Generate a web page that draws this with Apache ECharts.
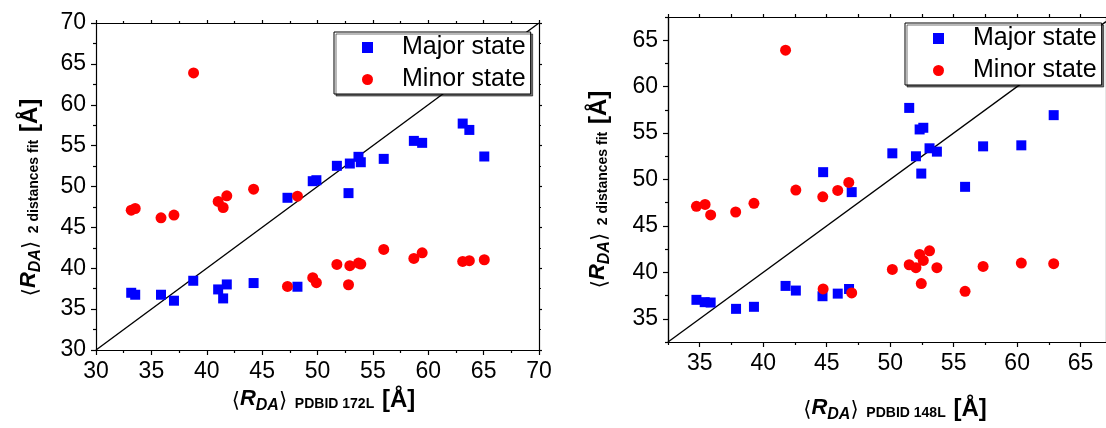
<!DOCTYPE html>
<html><head><meta charset="utf-8">
<script src="https://cdn.jsdelivr.net/npm/echarts@6/dist/echarts.min.js"></script>
<style>html,body{margin:0;padding:0;background:#fff}#c{width:1106px;height:428px}</style>
</head><body><div id="c"></div>
<script>
// ---- Left panel (PDBID 172L) ----
const leftMajorX = [33.18,33.54,35.87,37.04,38.78,41.03,41.48,41.81,44.23,47.29,48.19,49.57,49.90,51.75,52.80,52.92,53.70,53.91,55.98,58.70,59.45,63.11,63.71,65.06];
const leftMajorY = [37.0,36.76,36.76,36.03,38.47,37.41,36.31,38.02,38.19,48.62,37.74,50.65,50.77,52.53,49.19,52.81,53.63,52.97,53.38,55.58,55.34,57.7,56.92,53.67];
const leftMinorX = [33.18,33.54,35.87,37.04,38.81,41.03,41.48,41.81,44.23,48.19,47.29,49.57,49.90,51.75,52.80,52.92,53.70,53.91,55.98,58.70,59.45,63.11,63.71,65.06];
const leftMinorY = [47.11,47.31,46.17,46.5,63.89,48.17,47.43,48.86,49.67,48.82,37.78,38.84,38.23,40.47,37.98,40.31,40.63,40.51,42.3,41.2,41.89,40.84,40.92,41.04];
// ---- Right panel (PDBID 148L) ----
const rightMajorX = [34.74,35.39,35.86,37.86,39.27,41.76,42.57,44.72,44.67,45.87,46.76,46.97,50.17,51.50,52.03,52.32,52.61,52.45,53.10,53.68,55.90,57.32,60.33,62.88];
const rightMajorY = [37.04,36.79,36.75,36.07,36.29,38.54,38.04,50.79,37.43,37.71,38.21,48.64,52.82,57.71,52.5,55.39,55.57,50.64,53.36,53.0,49.21,53.57,53.68,56.93];
const rightMinorX = [34.74,35.42,35.86,37.83,39.27,41.76,42.57,44.69,45.87,46.74,44.72,46.97,50.17,51.50,52.03,52.32,52.61,52.45,53.10,53.68,55.90,57.32,60.33,62.88];
const rightMinorY = [47.11,47.32,46.18,46.5,47.43,63.93,48.86,48.14,48.82,49.68,38.21,37.79,40.32,40.82,40.5,41.93,41.29,38.79,42.32,40.5,37.96,40.64,41.0,40.93];
// ---- Axes / ticks ----
const leftMin = 30, leftMax = 70, leftStep = 5;
const rightMin = 32.5, rightMax = 67, rightYMax = 67.5;
const rightMajorTicks = [35,40,45,50,55,60,65];
const rightMinorTicks = [32.5,37.5,42.5,47.5,52.5,57.5,62.5,67.5];
const leftDiag = [[30,30],[70,70]];
const rightDiag = [[32.5,32.5],[67,67]];
const seriesNames = ['Major state','Minor state'];

const FONT = 'Liberation Sans, Arial, DejaVu Sans, sans-serif';
const zip = (a,b) => a.map((v,i)=>[v,b[i]]);
const rich = {
  a:{fontSize:21,fontFamily:'DejaVu Sans',color:'#000',verticalAlign:'bottom',padding:[0,0,2,0]},
  R:{fontSize:22,fontWeight:'bold',fontStyle:'italic',fontFamily:FONT,color:'#000',verticalAlign:'bottom',padding:[0,0,4,0]},
  s:{fontSize:16,fontWeight:'bold',fontStyle:'italic',fontFamily:FONT,color:'#000',verticalAlign:'bottom'},
  p:{fontSize:14,fontWeight:'bold',fontFamily:FONT,color:'#000',verticalAlign:'bottom',padding:[0,0,3,0]},
  b:{fontSize:24,fontWeight:'bold',fontFamily:FONT,color:'#000',verticalAlign:'bottom',padding:[0,0,2,0]}
};
const lineStyle = {color:'#000',width:1.2};
function valAxis(o){
  return Object.assign({
    type:'value', scale:false,
    axisLine:{show:true,onZero:false,lineStyle},
    splitLine:{show:false},
    axisLabel:{color:'#000',fontSize:23,fontFamily:FONT,margin:10},
    axisTick:{show:true,length:5,lineStyle},
    nameTextStyle:{rich}
  }, o);
}
const xAxes = [
  valAxis({gridIndex:0,position:'bottom',min:leftMin,max:leftMax,interval:leftStep,
    minorTick:{show:true,splitNumber:2,length:3,lineStyle},
    name:'{a|⟨}{R|R}{s|DA}{a|⟩}{p|  PDBID 172L  }{b|[Å]}',nameLocation:'middle',nameGap:33,
    nameTextStyle:{rich,padding:[0,0,0,12]}}),
  valAxis({gridIndex:0,position:'top',min:leftMin,max:leftMax,interval:leftStep,axisLabel:{show:false},
    axisTick:{show:true,length:3,lineStyle},minorTick:{show:true,splitNumber:2,length:2,lineStyle}}),
  valAxis({gridIndex:1,position:'bottom',min:rightMin,max:rightMax,
    axisLabel:{color:'#000',fontSize:23,fontFamily:FONT,margin:10,customValues:rightMajorTicks},
    axisTick:{show:true,length:5,lineStyle,customValues:rightMajorTicks},
    name:'{a|⟨}{R|R}{s|DA}{a|⟩}{p|  PDBID 148L  }{b|[Å]}',nameLocation:'middle',nameGap:55,
    nameTextStyle:{rich,padding:[0,0,0,16]}}),
  valAxis({gridIndex:1,position:'bottom',min:rightMin,max:rightMax,axisLabel:{show:false},
    axisTick:{show:true,length:3,lineStyle,customValues:rightMinorTicks}}),
  valAxis({gridIndex:1,position:'top',min:rightMin,max:rightMax,axisLabel:{show:false},
    axisTick:{show:true,length:3,lineStyle,customValues:rightMajorTicks.concat(rightMinorTicks)}})
];
const yAxes = [
  valAxis({gridIndex:0,position:'left',min:leftMin,max:leftMax,interval:leftStep,
    minorTick:{show:true,splitNumber:2,length:3,lineStyle},
    name:'{a|⟨}{R|R}{s|DA}{a|⟩}{p|  2 distances fit  }{b|[Å]}',nameLocation:'middle',nameRotate:90,nameGap:52,
    nameTextStyle:{rich,padding:[0,22,0,0]}}),
  valAxis({gridIndex:0,position:'right',min:leftMin,max:leftMax,interval:leftStep,axisLabel:{show:false},
    axisTick:{show:true,length:3,lineStyle},minorTick:{show:true,splitNumber:2,length:2,lineStyle}}),
  valAxis({gridIndex:1,position:'left',min:rightMin,max:rightYMax,
    axisLabel:{color:'#000',fontSize:23,fontFamily:FONT,margin:10,customValues:rightMajorTicks},
    axisTick:{show:true,length:5,lineStyle,customValues:rightMajorTicks},
    name:'{a|⟨}{R|R}{s|DA}{a|⟩}{p|  2 distances fit  }{b|[Å]}',nameLocation:'middle',nameRotate:90,nameGap:55,
    nameTextStyle:{rich,padding:[0,20,0,0]}}),
  valAxis({gridIndex:1,position:'left',min:rightMin,max:rightYMax,axisLabel:{show:false},
    axisTick:{show:true,length:3,lineStyle,customValues:rightMinorTicks}}),
  valAxis({gridIndex:1,position:'right',min:rightMin,max:rightYMax,axisLabel:{show:false},
    axisTick:{show:true,length:3,lineStyle,customValues:rightMajorTicks.concat(rightMinorTicks)}})
];
function legend(left, top){
  return {
    left, top, orient:'vertical', z:20,
    data:[{name:seriesNames[0],icon:'rect'},{name:seriesNames[1],icon:'circle'}],
    itemWidth:11, itemHeight:11, itemGap:7,
    backgroundColor:'#fff', borderColor:'#000', borderWidth:1,
    shadowColor:'rgba(0,0,0,0.55)', shadowOffsetX:2, shadowOffsetY:2, shadowBlur:0,
    padding:[3,5,2,28],
    itemStyle:{opacity:1},
    textStyle:{color:'#000',fontSize:25,fontFamily:FONT,padding:[0,0,0,24]},
    selectedMode:false
  };
}
const option = {
  animation:false,
  backgroundColor:'#fff',
  grid:[
    {left:96,top:23,width:443,height:327,containLabel:false},
    {left:668,top:17,width:438,height:326.5,containLabel:false}
  ],
  xAxis:xAxes, yAxis:yAxes,
  legend:[legend(334,32), legend(905,23)],
  series:[
    {type:'line',xAxisIndex:0,yAxisIndex:0,data:leftDiag,symbol:'none',lineStyle:{color:'#000',width:1.4},silent:true,z:1},
    {name:seriesNames[0],type:'scatter',xAxisIndex:0,yAxisIndex:0,data:zip(leftMajorX,leftMajorY),symbol:'rect',symbolSize:10,itemStyle:{color:'#0000ff',opacity:1}},
    {name:seriesNames[1],type:'scatter',xAxisIndex:0,yAxisIndex:0,data:zip(leftMinorX,leftMinorY),symbol:'circle',symbolSize:11,itemStyle:{color:'#ff0000',opacity:1}},
    {type:'line',xAxisIndex:2,yAxisIndex:2,data:rightDiag,symbol:'none',lineStyle:{color:'#000',width:1.4},silent:true,z:1},
    {name:seriesNames[0],type:'scatter',xAxisIndex:2,yAxisIndex:2,data:zip(rightMajorX,rightMajorY),symbol:'rect',symbolSize:10,itemStyle:{color:'#0000ff',opacity:1}},
    {name:seriesNames[1],type:'scatter',xAxisIndex:2,yAxisIndex:2,data:zip(rightMinorX,rightMinorY),symbol:'circle',symbolSize:11,itemStyle:{color:'#ff0000',opacity:1}}
  ]
};
const chart = echarts.init(document.getElementById('c'),null,{renderer:'canvas'});
chart.setOption(option);
</script></body></html>
